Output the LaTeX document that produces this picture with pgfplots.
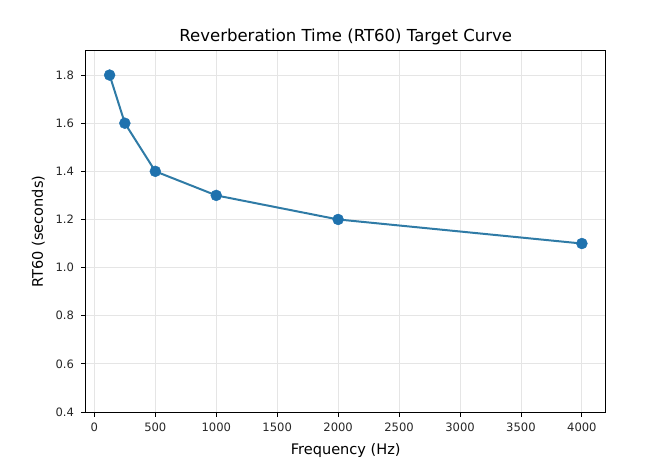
\documentclass[border=0pt]{standalone}
\usepackage{pgfplots}
\pgfplotsset{compat=1.18}
\usepackage{fontspec}
\setmainfont{DejaVu Sans}
\definecolor{linec}{HTML}{2F7BA6}
\definecolor{markc}{HTML}{1F72AE}
\begin{document}
\begin{tikzpicture}
\begin{axis}[
  at={(0,0)}, anchor=south west,
  scale only axis,
  width=519.5bp, height=361bp,
  xmin=-68.75, xmax=4193.75,
  ymin=0.4, ymax=1.9,
  xtick={0,500,...,4000},
  ytick={0.4,0.6,...,1.81},
  /pgf/number format/assume math mode=true,
  /pgf/number format/.cd, fixed, fixed zerofill, precision=1, 1000 sep={},
  /pgfplots/.cd,
  xticklabel={\pgfmathprintnumber[fixed,precision=0,1000 sep={}]{\tick}},
  tick label style={font=\fontsize{11.6}{14}\selectfont, text=black!85},
  xticklabel style={yshift=-3bp},
  yticklabel style={xshift=-4bp},
  label style={font=\fontsize{14.6}{17}\selectfont},
  title style={font=\fontsize{16.6}{19}\selectfont, yshift=-3bp},
  title={Reverberation Time (RT60) Target Curve},
  xlabel={Frequency (Hz)},
  ylabel={RT60 (seconds)},
  grid=major,
  major grid style={line width=0.9bp, color=black!10},
  tick align=outside,
  major tick length=4.5bp,
  tick style={line width=0.9bp, black},
  axis line style={line width=1bp, black},
  xtick pos=bottom, ytick pos=left,
  xlabel style={yshift=-5bp},
  ylabel style={yshift=4bp},
]
\addplot[color=linec, line width=2bp, mark=*, mark size=5.5bp,
  mark options={fill=markc, draw=markc, line width=0.4bp}] coordinates {
  (125,1.8) (250,1.6) (500,1.4) (1000,1.3) (2000,1.2) (4000,1.1)
};
\end{axis}
\path[use as bounding box] (-86bp,-63bp) rectangle (563bp,412bp);
\end{tikzpicture}
\end{document}
